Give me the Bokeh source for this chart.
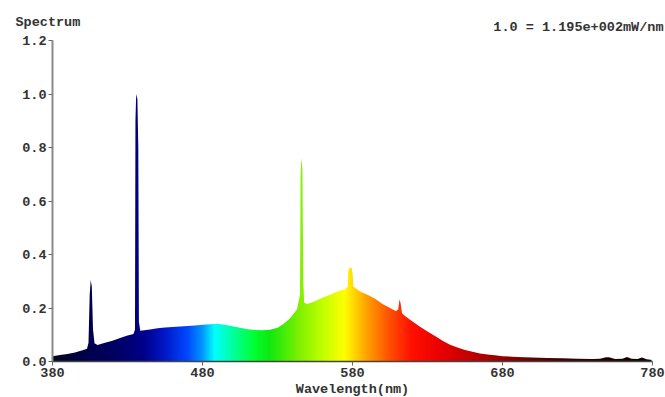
import numpy as np
from bokeh.plotting import figure
from bokeh.models import Range1d, Label, FixedTicker, PrintfTickFormatter
from bokeh.embed import file_html
from bokeh.resources import INLINE

# ---- data ----
wavelength = [380, 385, 390, 395, 400, 403, 404, 404.8, 405.5, 406.2, 407, 408, 410,
              415, 420, 425, 430, 434, 435, 435.3, 435.8, 436.6, 437.2, 437.6, 438.5, 440,
              445, 450, 455, 460, 465, 470, 475, 480, 485, 488, 491, 495, 500, 505,
              510, 515, 520, 525, 530, 534, 538, 541, 543, 545, 545.4, 545.9, 546.6,
              547.2, 547.8, 550, 555, 560, 565, 570, 575, 576.8, 577.2, 578, 579.5, 580,
              580.6, 585, 590, 595, 600, 605, 609, 610.5, 611.3, 612, 613, 615, 620, 625,
              630, 635, 640, 645, 650, 655, 660, 665, 670, 675, 680, 690, 700, 710,
              720, 730, 740, 745, 749, 751, 755, 760, 763, 766, 770, 773, 776, 780]
intensity = [0.020, 0.024, 0.028, 0.034, 0.042, 0.048, 0.070, 0.250, 0.305, 0.280, 0.120,
             0.068, 0.062, 0.070, 0.078, 0.088, 0.097, 0.103, 0.120, 0.900, 1.000, 0.980,
             0.800, 0.150, 0.115, 0.116, 0.120, 0.124, 0.127, 0.129, 0.131, 0.133, 0.135,
             0.137, 0.139, 0.140, 0.140, 0.137, 0.132, 0.126, 0.121, 0.118, 0.117, 0.119,
             0.126, 0.140, 0.160, 0.180, 0.195, 0.250, 0.700, 0.760, 0.720, 0.300, 0.220,
             0.215, 0.225, 0.238, 0.250, 0.262, 0.270, 0.280, 0.340, 0.350, 0.350, 0.330,
             0.280, 0.262, 0.250, 0.235, 0.215, 0.200, 0.188, 0.195, 0.232, 0.220, 0.180,
             0.170, 0.150, 0.130, 0.112, 0.095, 0.078, 0.063, 0.052, 0.043, 0.036, 0.030,
             0.026, 0.023, 0.020, 0.017, 0.015, 0.013, 0.012, 0.010, 0.009, 0.010, 0.016,
             0.016, 0.009, 0.010, 0.017, 0.010, 0.009, 0.015, 0.008, 0.006]
x_ticks = [380, 480, 580, 680, 780]
y_ticks = [0.0, 0.2, 0.4, 0.6, 0.8, 1.0, 1.2]
title_text = "Spectrum"
scale_note = "1.0 = 1.195e+002mW/nm"
x_label = "Wavelength(nm)"

# ---- style: colour stops of the spectral fill ----
stop_wl = [380, 400, 420, 440, 455, 470, 480, 488, 500, 515, 525, 545, 560, 575, 590,
           605, 620, 640, 660, 690, 720, 750, 780]
stop_col = ["#080820", "#000048", "#000060", "#000088", "#0018c8", "#0048ff", "#0098ff",
            "#00ffff", "#00ffa0", "#00ff30", "#10e810", "#80f000", "#c0ff00", "#ffff00",
            "#ffa000", "#ff5000", "#ff1000", "#e80000", "#c00000", "#800000", "#400000",
            "#200000", "#100000"]

FONT = "Liberation Mono"
FS = "13.5px"
TXT = "#333333"

# ---- layout (pixels): the plot area inside a full-canvas frame ----
W, H = 665, 397
L, R, T, B = 52, 13, 40, 36

x0, x1 = x_ticks[0], x_ticks[-1]
y0, y1 = y_ticks[0], y_ticks[-1]
xs = (x1 - x0) / (W - L - R)   # data units per pixel
ys = (y1 - y0) / (H - T - B)

p = figure(width=W, height=H, output_backend="svg", toolbar_location=None,
           x_range=Range1d(x0 - L * xs, x1 + R * xs),
           y_range=Range1d(y0 - B * ys, y1 + T * ys),
           min_border=0)
p.title.visible = False
p.outline_line_color = None
p.xgrid.visible = False
p.ygrid.visible = False
p.background_fill_color = "white"
p.border_fill_color = "white"

# gradient image (only as tall as the highest peak, one pixel short of the right end)
cols = np.linspace(x0, x1, 1201)
rgb = np.array([[int(c[i:i + 2], 16) for i in (1, 3, 5)] for c in stop_col], dtype=float)
img = np.empty((1, len(cols)), dtype=np.uint32)
view = img.view(dtype=np.uint8).reshape((1, len(cols), 4))
for k in range(3):
    view[0, :, k] = np.clip(np.interp(cols, stop_wl, rgb[:, k]), 0, 255).astype(np.uint8)
view[0, :, 3] = 255
top = max(intensity) * 1.03
p.image_rgba(image=[img], x=x0, y=y0, dw=x1 - x0 - xs, dh=top - y0)

# white mask above the spectrum curve
p.varea(x=wavelength, y1=intensity, y2=[top + 0.02] * len(wavelength), fill_color="white")

for ax in (p.xaxis[0], p.yaxis[0]):
    ax.major_label_text_font = FONT
    ax.major_label_text_font_size = FS
    ax.major_label_text_font_style = "bold"
    ax.major_label_text_color = TXT
    ax.major_tick_in = 0
    ax.major_tick_out = 4
    ax.minor_tick_in = 0
    ax.minor_tick_out = 0
    ax.major_label_standoff = 2

p.xaxis.fixed_location = y0
p.yaxis.fixed_location = x0
p.xaxis.bounds = (x0, x1)
p.yaxis.bounds = (y0, y1)
p.xaxis.ticker = FixedTicker(ticks=x_ticks)
p.yaxis.ticker = FixedTicker(ticks=y_ticks)
p.yaxis.formatter = PrintfTickFormatter(format="%.1f")
p.yaxis.axis_line_color = "#8a8a8a"
p.yaxis.axis_line_width = 2
p.yaxis.major_tick_line_color = "#666666"
p.xaxis.axis_line_color = "#444444"
p.xaxis.axis_line_width = 1.5
p.xaxis.major_tick_line_color = "#666666"
p.xaxis.axis_label = x_label
p.xaxis.axis_label_text_font = FONT
p.xaxis.axis_label_text_font_size = FS
p.xaxis.axis_label_text_font_style = "bold"
p.xaxis.axis_label_text_color = TXT
p.xaxis.axis_label_standoff = 2

p.add_layout(Label(x=15, y=H - 22, x_units="screen", y_units="screen", text=title_text,
                   text_font=FONT, text_font_size=FS, text_font_style="bold",
                   text_color=TXT, text_baseline="middle", text_align="left"))
p.add_layout(Label(x=W - 2, y=H - 27, x_units="screen", y_units="screen", text=scale_note,
                   text_font=FONT, text_font_size=FS, text_font_style="bold",
                   text_color=TXT, text_baseline="middle", text_align="right"))

open("out.html", "w").write(file_html(p, INLINE))
